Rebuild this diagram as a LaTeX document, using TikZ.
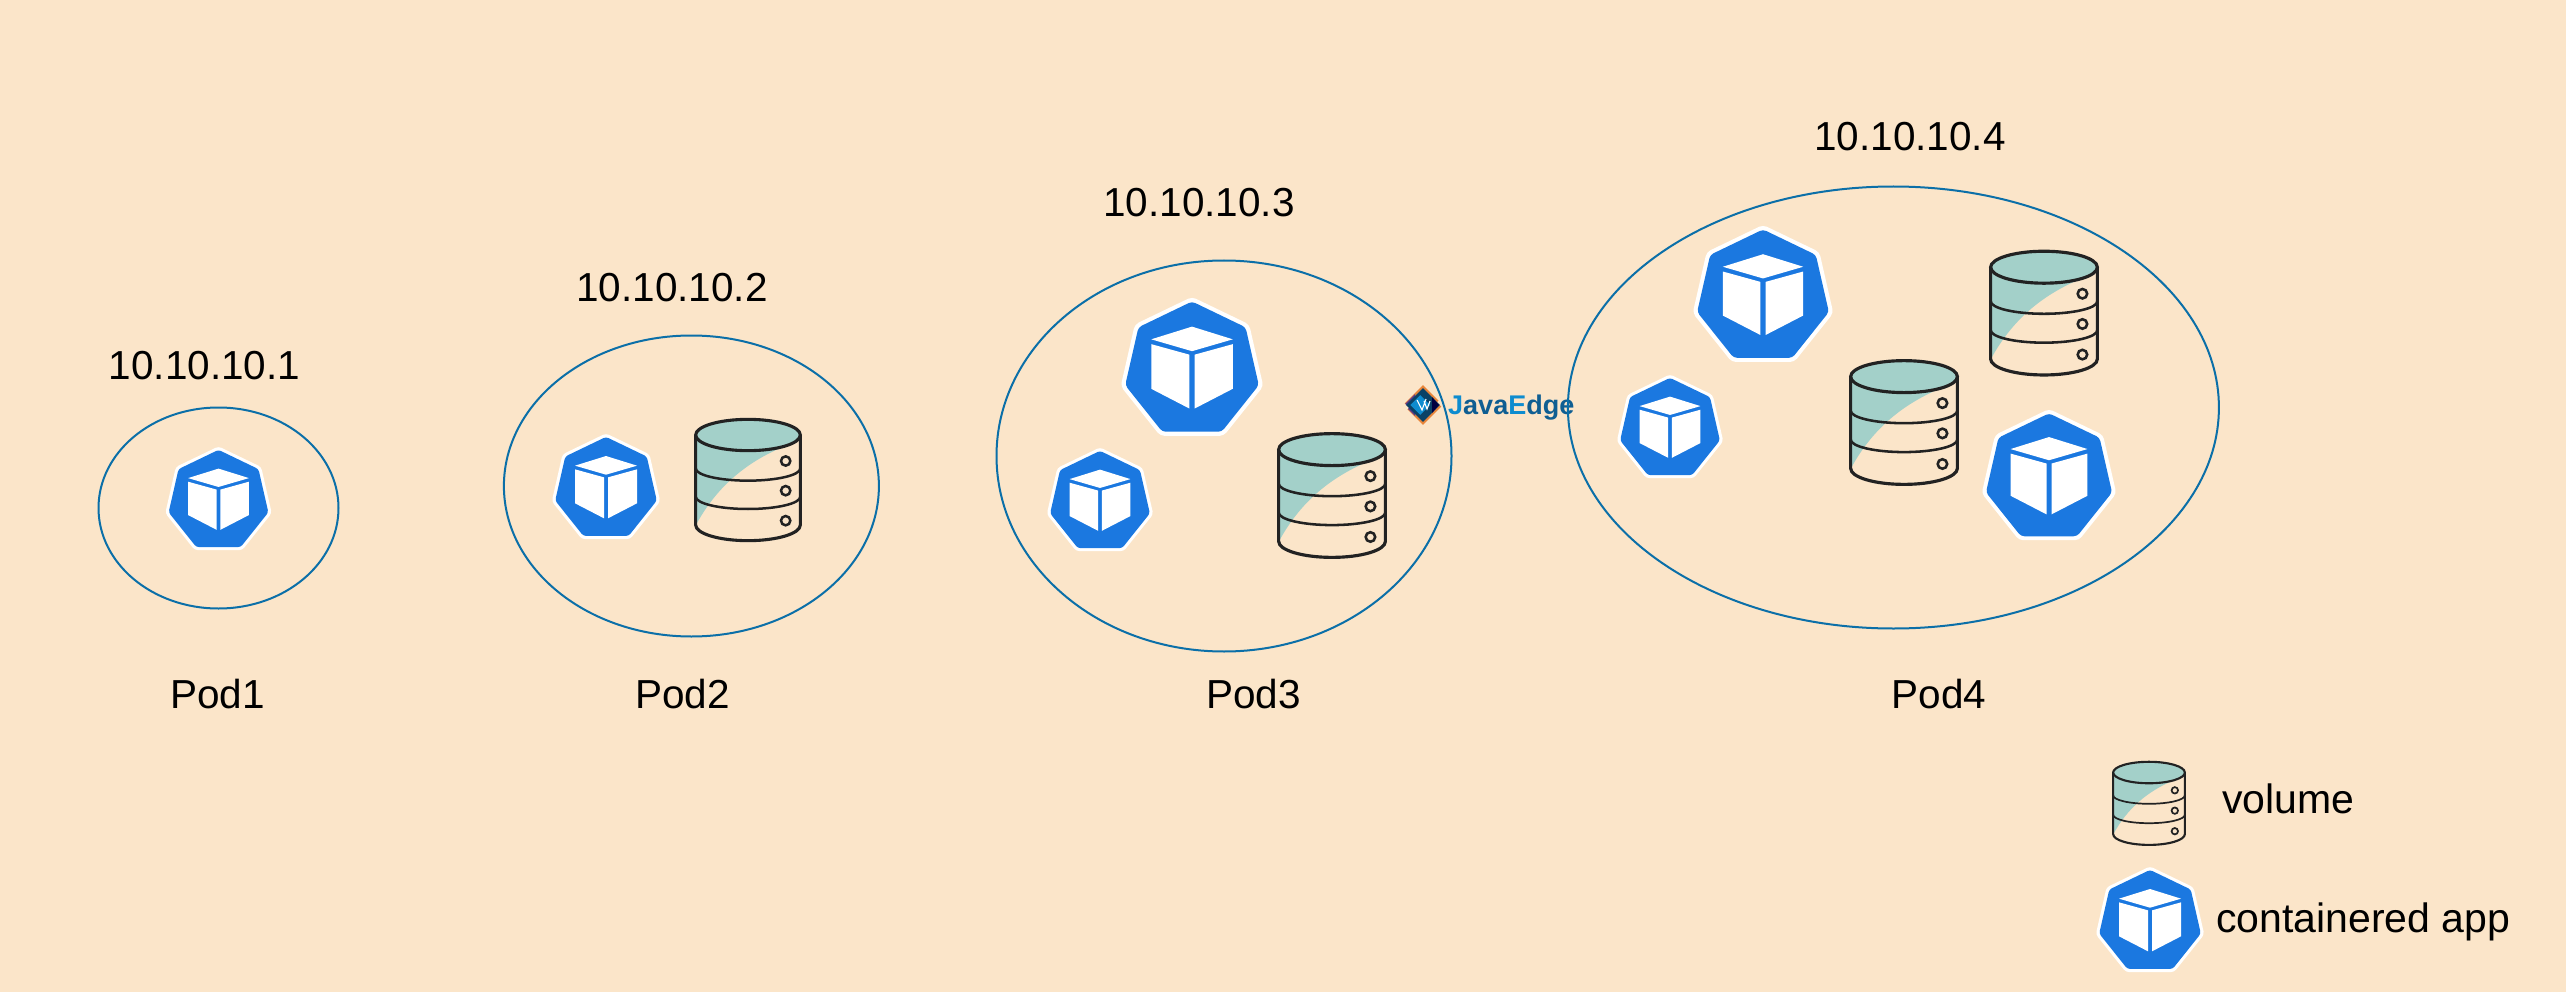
\documentclass[tikz,border=0pt]{standalone}
\usepackage{fontspec}
\setmainfont{Liberation Sans}
\usetikzlibrary{shapes.geometric}
\definecolor{bgc}{HTML}{FBE5C9}
\definecolor{ringc}{HTML}{0B6FA8}
\definecolor{tealc}{HTML}{A3D0C9}
\definecolor{inkc}{HTML}{222222}
\definecolor{kubec}{HTML}{1B78E0}
\definecolor{jelight}{HTML}{0E8CCF}
\definecolor{jedark}{HTML}{0F5E92}
\definecolor{logoorange}{HTML}{E8853A}
\definecolor{logoviolet}{HTML}{5A3A8C}
\newcommand{\kubeicon}[3]{%
 \begin{scope}[shift={(#1,#2)},x=#3pt,y=#3pt]
  \fill[white,rounded corners=#3*0.06pt] (90:1.03) -- (38.57:1.03) -- (-12.86:1.03) -- (-64.29:1.03) -- (-115.71:1.03) -- (-167.14:1.03) -- (141.43:1.03) -- cycle;
  \fill[kubec,rounded corners=#3*0.05pt] (90:.965) -- (38.57:.965) -- (-12.86:.965) -- (-64.29:.965) -- (-115.71:.965) -- (-167.14:.965) -- (141.43:.965) -- cycle;
  \fill[white] (0,.611) -- (.574,.432) -- (0,.265) -- (-.574,.432) -- cycle;
  \fill[white] (-.574,.364) -- (-.037,.216) -- (-.037,-.543) -- (-.574,-.265) -- cycle;
  \fill[white] (.574,.364) -- (.037,.216) -- (.037,-.543) -- (.574,-.265) -- cycle;
 \end{scope}}
\newcommand{\volumeicon}[3]{%
 \begin{scope}[shift={(#1,#2)},x=#3*0.3333pt,y=-#3*0.3333pt,line width=#3*3.1pt,draw=inkc]
  \fill[tealc] (-157,-133.5) -- (-157,138) .. controls (-94,20) and (-4,-50) .. (96,-94) -- (96,-133.5) -- cycle;
  \filldraw[fill=tealc] (0,-133.5) ellipse [x radius=157,y radius=47];
  \draw (-157,-133.5) -- (-157,136.5) arc[start angle=180,end angle=0,x radius=157,y radius=47] -- (157,-133.5);
  \draw[line width=#3*2.5pt] (-157,-33.5) arc[start angle=180,end angle=0,x radius=157,y radius=37];
  \draw[line width=#3*2.5pt] (-157,51.5) arc[start angle=180,end angle=0,x radius=157,y radius=37];
  \draw[line width=#3*2.5pt] (113,-55.5) circle[radius=14] (113,33.5) circle[radius=14] (113,123.5) circle[radius=14];
 \end{scope}}
\tikzset{
 podring/.style={draw=ringc,line width=2pt,ellipse,inner sep=0pt,fill=none},
 lab/.style={font=\fontsize{40.5}{48}\selectfont,text=black,inner sep=0pt},
 leglab/.style={font=\fontsize{41}{48}\selectfont,text=black,inner sep=0pt,anchor=west},
 wm/.style={font=\fontsize{27}{32}\selectfont\bfseries,inner sep=0pt,anchor=base west},
}
\begin{document}
\begin{tikzpicture}[x=1pt,y=-1pt]
\useasboundingbox (0,0) rectangle (2566,992);
\fill[bgc] (0,0) rectangle (2566,992);
% watermark
\begin{scope}[shift={(1423,405)}]
 \fill[logoorange,rotate=45] (-14,-14) rectangle (14,14);
 \fill[logoviolet] (-19,0) -- (-8,-11) -- (-8,11) -- cycle;
 \fill[bgc,rotate=45] (-15,-16) rectangle (-12,-8);
 \fill[bgc,rotate=45] (12,8) rectangle (15,16);
 \fill[jedark!70!black,rotate=45] (-12,-12) rectangle (12,12);
 \fill[jelight,rotate=45] (-9,-9) rectangle (5,5);
 \fill[black!75!blue] (16,0) -- (9,-8) -- (9,8) -- cycle;
 \draw[white,line width=1.1pt] (-6,-5) -- (-1,5) -- (3,-6) (1,-4) -- (4,4) -- (7,-4);
\end{scope}
\node[wm,text=jedark] (wmtext) at (1448,414) {\textcolor{jelight}{J}ava\textcolor{jelight}{E}dge};
% rings
\node[podring,minimum width=240pt,minimum height=201pt] (ring1) at (218.5,508) {};
\node[podring,minimum width=375pt,minimum height=301pt] (ring2) at (691.4,486) {};
\node[podring,minimum width=455pt,minimum height=391pt] (ring3) at (1224,456) {};
\node[podring,minimum width=651pt,minimum height=442pt] (ring4) at (1893.4,407.5) {};
% icons
\kubeicon{218.5}{501}{53}
\kubeicon{606}{489}{54}
\kubeicon{1100}{502}{53}
\kubeicon{1192}{370}{71}
\kubeicon{1670}{429}{53}
\kubeicon{1763}{297}{70}
\kubeicon{2049}{478}{67}
\kubeicon{2150}{922}{54}
\volumeicon{748}{479.5}{1}
\volumeicon{1332}{495}{1.02}
\volumeicon{2044}{312.6}{1.02}
\volumeicon{1904}{422}{1.02}
\volumeicon{2149}{803}{0.685}
% labels
\node[lab] (ip1) at (204.6,366) {10.10.10.1};
\node[lab] (ip2) at (672,288) {10.10.10.2};
\node[lab] (ip3) at (1199,203) {10.10.10.3};
\node[lab] (ip4) at (1910,137) {10.10.10.4};
\node[lab] (pod1) at (217.6,694) {Pod1};
\node[lab] (pod2) at (682.4,694) {Pod2};
\node[lab] (pod3) at (1253.5,694) {Pod3};
\node[lab] (pod4) at (1939,694) {Pod4};
\node[leglab] (volumelab) at (2222,799) {volume};
\node[leglab] (applab) at (2216,922) {containered app};
\end{tikzpicture}
\end{document}
